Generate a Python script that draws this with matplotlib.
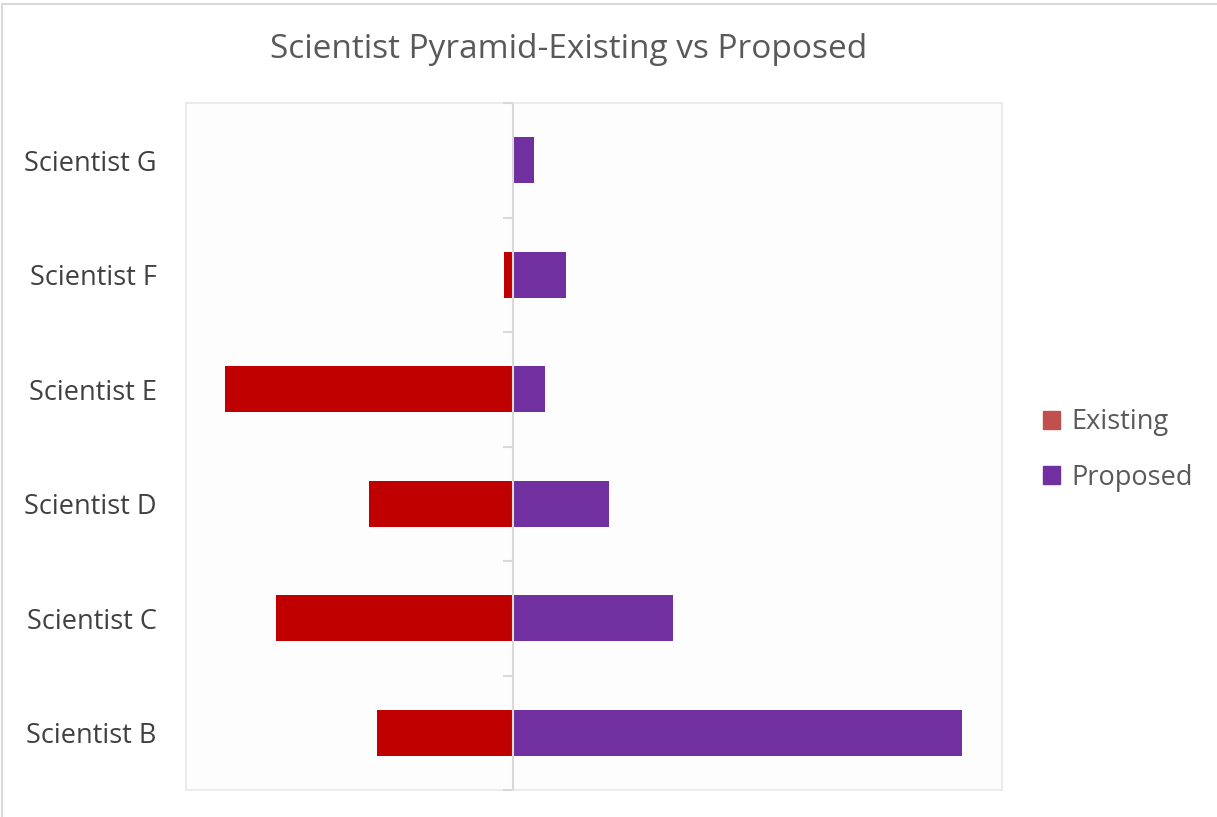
import matplotlib.pyplot as plt
import numpy as np
from matplotlib.patches import Patch, Rectangle

plt.rcParams['font.family'] = ['Open Sans', 'DejaVu Sans']

scientists = ['Scientist B', 'Scientist C', 'Scientist D', 'Scientist E', 'Scientist F', 'Scientist G']
existing = [136, 237, 144, 288, 9, 0]
proposed = [449, 160, 96, 32, 53, 21]

fig = plt.figure(figsize=(12.17, 8.17), dpi=100)
fig.patches.append(Rectangle((0.0015, -0.01), 1.2, 1.005, transform=fig.transFigure,
                             fill=False, edgecolor='#D9D9D9', linewidth=1.5))
ax = fig.add_axes([186/1217, 1 - 790/817, 816/1217, 687/817])
ax.set_facecolor('#FDFDFD')

y = np.arange(len(scientists))
ax.barh(y, [-v for v in existing], height=0.4, color='#C00000', zorder=2)
ax.barh(y, proposed, height=0.4, color='#7030A0', zorder=2)

ax.set_xlim(-327, 489)
ax.set_ylim(-0.5, len(scientists) - 0.5)

# center axis and category boundary ticks
ax.axvline(0, color='#D9D9D9', linewidth=1.5, zorder=3)
bounds = np.arange(len(scientists) + 1) - 0.5
ax.hlines(bounds, -10, 0, color='#D9D9D9', linewidth=1.5, zorder=3, clip_on=False)

ax.set_xticks([])
ax.set_yticks(y)
ax.set_yticklabels(scientists, fontsize=19.5, color='#404040')
ax.tick_params(axis='y', length=0, pad=21)
for s in ax.spines.values():
    s.set_color('#E6E8EC')
    s.set_linewidth(1.2)

fig.text(569/1217, 1 - 49/817, 'Scientist Pyramid-Existing vs Proposed', ha='center', va='center',
         fontsize=24, color='#595959')

handles = [Patch(color='#C0504D'), Patch(color='#7030A0')]
fig.legend(handles, ['Existing', 'Proposed'], loc='center left', bbox_to_anchor=(1019/1217, 1 - 450/817),
           frameon=False, fontsize=19.5, labelcolor='#595959', handlelength=0.6, handleheight=0.6,
           handletextpad=0.45, labelspacing=1.0)

fig.savefig('out.png', dpi=100)
